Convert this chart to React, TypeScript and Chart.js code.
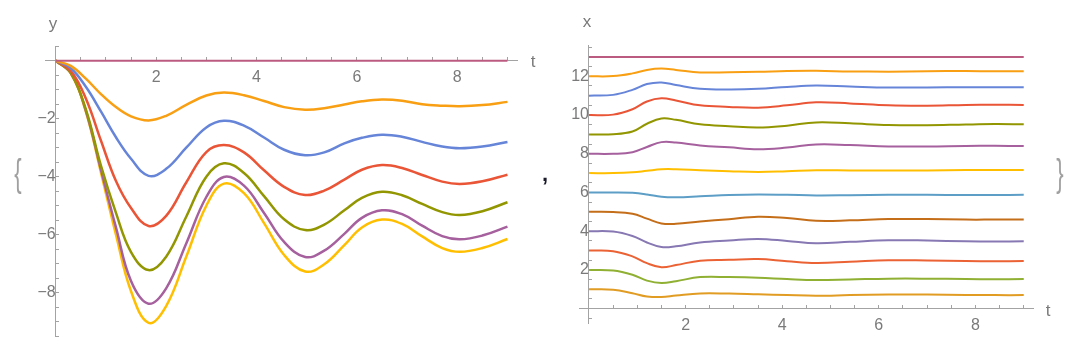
import React, { useEffect, useRef } from 'react';
import { Chart, registerables } from 'chart.js';

Chart.register(...registerables);

// ---------- Left plot: y(t) ----------
const tLeft = [0, 0.3, 0.6, 0.9, 1.2, 1.5, 1.85, 2.2, 2.6, 3.0, 3.35, 3.75, 4.15, 4.55, 4.97, 5.35, 5.75, 6.1, 6.5, 6.9, 7.3, 7.7, 8.05, 8.5, 9.0];
const yOrange = [0, -0.18, -0.62, -1.15, -1.6, -1.92, -2.06, -1.9, -1.52, -1.2, -1.1, -1.19, -1.39, -1.6, -1.69, -1.64, -1.51, -1.4, -1.34, -1.38, -1.5, -1.55, -1.57, -1.53, -1.42];
const yBlue = [0, -0.26, -0.9, -1.75, -2.64, -3.38, -3.97, -3.73, -3.0, -2.3, -2.07, -2.24, -2.65, -3.07, -3.26, -3.16, -2.85, -2.66, -2.55, -2.62, -2.8, -2.96, -3.02, -2.96, -2.8];
const yRed = [0, -0.35, -1.3, -2.75, -4.15, -5.08, -5.7, -5.35, -4.2, -3.15, -2.91, -3.16, -3.78, -4.35, -4.63, -4.48, -4.1, -3.76, -3.6, -3.7, -3.94, -4.17, -4.25, -4.16, -3.93];
const yOlive = [0, -0.42, -1.68, -3.62, -5.25, -6.6, -7.22, -6.76, -5.38, -4.0, -3.54, -3.87, -4.67, -5.47, -5.84, -5.65, -5.16, -4.73, -4.52, -4.64, -4.94, -5.22, -5.32, -5.19, -4.88];
const yPurple = [0, -0.43, -1.73, -3.76, -5.75, -7.6, -8.38, -7.85, -6.3, -4.7, -4.01, -4.31, -5.25, -6.25, -6.77, -6.55, -5.97, -5.42, -5.16, -5.29, -5.69, -6.05, -6.16, -6.03, -5.72];
const yGold = [0, -0.44, -1.76, -3.85, -6.0, -7.95, -9.04, -8.46, -6.76, -5.0, -4.24, -4.57, -5.6, -6.7, -7.27, -7.02, -6.36, -5.75, -5.48, -5.63, -6.06, -6.46, -6.59, -6.46, -6.15];
const tFlat = [0, 9];
const yZero = [0, 0];

// ---------- Right plot: x(t) ----------
const tRight = [0, 0.5, 0.9, 1.2, 1.5, 1.8, 2.3, 2.9, 3.5, 4.1, 4.7, 5.4, 6.2, 7.0, 7.8, 8.4, 9.0];
const x13 = [13, 13];
const x12 = [12, 12.01, 12.15, 12.33, 12.4, 12.33, 12.2, 12.21, 12.23, 12.27, 12.28, 12.25, 12.24, 12.26, 12.27, 12.26, 12.26];
const x11 = [11, 11.04, 11.3, 11.6, 11.68, 11.55, 11.36, 11.32, 11.35, 11.45, 11.52, 11.47, 11.42, 11.42, 11.44, 11.43, 11.43];
const x10 = [10, 10.02, 10.3, 10.7, 10.86, 10.75, 10.5, 10.42, 10.38, 10.5, 10.66, 10.6, 10.5, 10.48, 10.52, 10.53, 10.52];
const x9 = [9, 9.01, 9.15, 9.55, 9.82, 9.75, 9.52, 9.42, 9.35, 9.45, 9.62, 9.57, 9.48, 9.47, 9.51, 9.53, 9.52];
const x8 = [8, 8.0, 8.08, 8.35, 8.6, 8.58, 8.43, 8.33, 8.23, 8.32, 8.48, 8.45, 8.38, 8.37, 8.4, 8.41, 8.4];
const x7 = [7, 7.0, 7.04, 7.12, 7.2, 7.2, 7.15, 7.1, 7.06, 7.1, 7.15, 7.14, 7.13, 7.14, 7.16, 7.16, 7.16];
const x6 = [6, 6.0, 5.98, 5.9, 5.78, 5.75, 5.8, 5.87, 5.9, 5.88, 5.85, 5.86, 5.88, 5.88, 5.87, 5.87, 5.88];
const x5 = [5, 4.99, 4.9, 4.65, 4.4, 4.38, 4.5, 4.62, 4.75, 4.68, 4.54, 4.56, 4.63, 4.63, 4.6, 4.6, 4.6];
const x4 = [4, 3.98, 3.75, 3.42, 3.18, 3.22, 3.42, 3.52, 3.6, 3.5, 3.38, 3.45, 3.53, 3.52, 3.48, 3.47, 3.48];
const x3 = [3, 2.97, 2.7, 2.35, 2.14, 2.25, 2.48, 2.52, 2.56, 2.45, 2.36, 2.42, 2.5, 2.49, 2.46, 2.45, 2.46];
const x2 = [2, 1.97, 1.75, 1.45, 1.32, 1.42, 1.63, 1.63, 1.6, 1.53, 1.48, 1.51, 1.55, 1.55, 1.53, 1.52, 1.53];
const x1 = [1, 0.98, 0.8, 0.63, 0.6, 0.68, 0.79, 0.78, 0.74, 0.7, 0.67, 0.7, 0.73, 0.73, 0.71, 0.7, 0.7];

// tick label values
const xTickLabels = [2, 4, 6, 8];
const yLeftTickLabels = [-2, -4, -6, -8];
const yRightTickLabels = [2, 4, 6, 8, 10, 12];

const AXIS = '#a3a3a3';
const LABEL = '#7a7a7a';
const FONT = '"Liberation Sans", Arial, sans-serif';

const pts = (ts: number[], vs: number[]) => vs.map((v, i) => ({ x: ts[i], y: v }));
const fmt = (v: number) => (v < 0 ? '\u2212' + Math.abs(v) : String(v));

function ds(ts: number[], vs: number[], color: string, width: number) {
  return {
    data: pts(ts, vs),
    borderColor: color,
    backgroundColor: color,
    borderWidth: width,
    pointRadius: 0,
    fill: false,
    tension: 0.4,
  };
}

function makeScales(xMin: number, xMax: number, yMin: number, yMax: number, yLabels: number[]) {
  return {
    x: {
      type: 'linear' as const,
      min: xMin,
      max: xMax,
      position: { y: 0 },
      afterFit: (s: any) => { s.height = 0; },
      border: { display: true, color: AXIS, width: 1 },
      grid: { display: true, drawOnChartArea: false, drawTicks: true, tickLength: -4, tickColor: AXIS, tickWidth: 1 },
      ticks: {
        stepSize: 0.5,
        autoSkip: false,
        maxRotation: 0,
        minRotation: 0,
        includeBounds: false,
        padding: 11,
        color: LABEL,
        font: { family: FONT, size: 16 },
        callback: (v: any) => (xTickLabels.includes(Number(v)) ? fmt(Number(v)) : ''),
      },
    },
    y: {
      type: 'linear' as const,
      min: yMin,
      max: yMax,
      position: { x: 0 },
      afterFit: (s: any) => { s.width = 0; },
      border: { display: true, color: AXIS, width: 1 },
      grid: { display: true, drawOnChartArea: false, drawTicks: true, tickLength: -4, tickColor: AXIS, tickWidth: 1 },
      ticks: {
        stepSize: 0.5,
        autoSkip: false,
        includeBounds: false,
        padding: 8,
        color: LABEL,
        font: { family: FONT, size: 16 },
        callback: (v: any) => (yLabels.includes(Number(v)) ? fmt(Number(v)) : ''),
      },
    },
  };
}

function baseOptions(padding: any, scales: any) {
  return {
    responsive: false,
    animation: false as const,
    devicePixelRatio: 1,
    layout: { padding },
    plugins: { legend: { display: false }, tooltip: { enabled: false } },
    scales,
  };
}

const textStyle: React.CSSProperties = {
  position: 'absolute',
  fontFamily: FONT,
  color: LABEL,
  fontSize: 17,
  lineHeight: 1,
  transform: 'translate(-50%, -50%)',
  whiteSpace: 'nowrap',
};

export default function App() {
  const leftRef = useRef<HTMLCanvasElement>(null);
  const rightRef = useRef<HTMLCanvasElement>(null);

  useEffect(() => {
    const left = new Chart(leftRef.current as HTMLCanvasElement, {
      type: 'line',
      data: {
        datasets: [
          ds(tLeft, yGold, '#FFBF00', 2.5),
          ds(tLeft, yPurple, '#A5609D', 2.5),
          ds(tLeft, yOlive, '#929600', 2.5),
          ds(tLeft, yRed, '#E95536', 2.5),
          ds(tLeft, yBlue, '#6685D9', 2.5),
          ds(tLeft, yOrange, '#F89F13', 2.5),
          ds(tFlat, yZero, '#BC5B80', 2),
        ].reverse(),
      },
      options: baseOptions({ left: 45.7, right: 22.5, top: 46.2, bottom: 25.8 }, makeScales(-0.2, 9.2, -9.5, 0.5, yLeftTickLabels)) as any,
    });
    const right = new Chart(rightRef.current as HTMLCanvasElement, {
      type: 'line',
      data: {
        datasets: [
          ds(tRight, x1, '#E19C24', 2),
          ds(tRight, x2, '#8FB032', 2),
          ds(tRight, x3, '#EB6235', 2),
          ds(tRight, x4, '#8778B3', 2),
          ds(tRight, x5, '#C56E1A', 2),
          ds(tRight, x6, '#5D9EC7', 2),
          ds(tRight, x7, '#FFBF00', 2),
          ds(tRight, x8, '#A5609D', 2),
          ds(tRight, x9, '#929600', 2),
          ds(tRight, x10, '#E95536', 2),
          ds(tRight, x11, '#6685D9', 2),
          ds(tRight, x12, '#F89F13', 2),
          ds(tFlat, x13, '#BC5B80', 2),
        ],
      },
      options: baseOptions({ left: 39.3, right: 49.6, top: 45.3, bottom: 38.8 }, makeScales(-0.2, 9.2, -0.75, 13.6, yRightTickLabels)) as any,
    });
    return () => {
      left.destroy();
      right.destroy();
    };
  }, []);

  return (
    <div style={{ position: 'absolute', left: 0, top: 0, width: 1083, height: 362, background: '#fff', overflow: 'hidden' }}>
      <canvas ref={leftRef} width={540} height={362} style={{ position: 'absolute', left: 0, top: 0, width: 540, height: 362 }} />
      <canvas ref={rightRef} width={543} height={362} style={{ position: 'absolute', left: 540, top: 0, width: 543, height: 362 }} />
      <span style={{ ...textStyle, left: 53, top: 23 }}>y</span>
      <span style={{ ...textStyle, left: 533, top: 61 }}>t</span>
      <span style={{ ...textStyle, left: 587, top: 21 }}>x</span>
      <span style={{ ...textStyle, left: 1048, top: 310 }}>t</span>
      <span style={{ ...textStyle, left: 18, top: 173, fontSize: 22, color: '#a0a0a0', transform: 'translate(-50%, -50%) scaleY(1.8)' }}>{'{'}</span>
      <span style={{ ...textStyle, left: 1060, top: 173, fontSize: 22, color: '#a0a0a0', transform: 'translate(-50%, -50%) scaleY(1.8)' }}>{'}'}</span>
      <span style={{ ...textStyle, left: 545, top: 174, fontSize: 22, fontWeight: 'bold', color: '#1a1a2a' }}>,</span>
    </div>
  );
}
